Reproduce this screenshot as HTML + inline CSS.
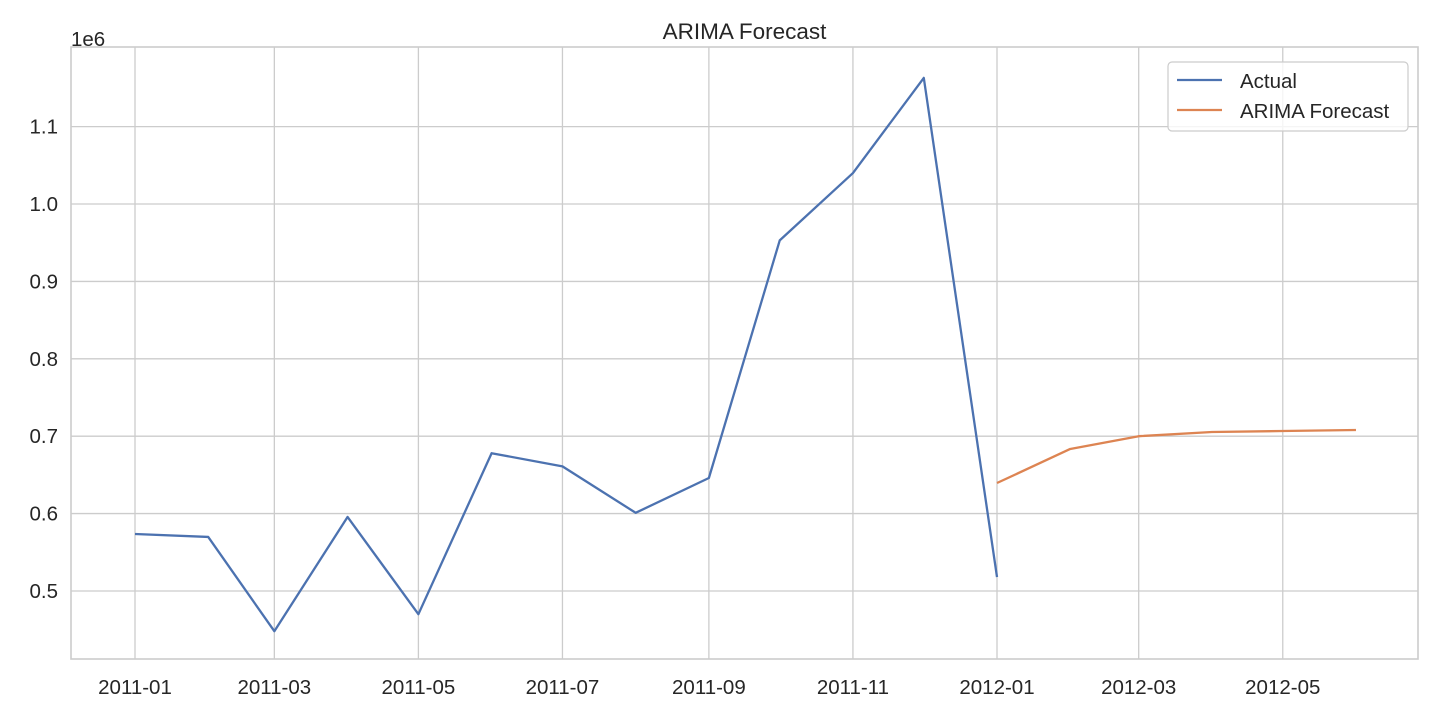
<!DOCTYPE html>
<html><head><meta charset="utf-8"><style>
html,body{margin:0;padding:0;background:#fff;}
svg{display:block;font-family:"Liberation Sans",sans-serif;}
</style></head><body>
<svg id="chart" width="1440" height="720" xmlns="http://www.w3.org/2000/svg"></svg>
<script>
const actualDates = ["2011-01-01","2011-02-01","2011-03-01","2011-04-01","2011-05-01","2011-06-01","2011-07-01","2011-08-01","2011-09-01","2011-10-01","2011-11-01","2011-12-01","2012-01-01"];
const actualValues = [0.5736,0.5698,0.448,0.5956,0.470,0.678,0.661,0.601,0.646,0.953,1.040,1.163,0.518];
const forecastDates = ["2012-01-01","2012-02-01","2012-03-01","2012-04-01","2012-05-01","2012-06-01"];
const forecastValues = [0.6395,0.6835,0.700,0.7054,0.7067,0.708];
const yTicks = [0.5,0.6,0.7,0.8,0.9,1.0,1.1];
const xTickDates = ["2011-01-01","2011-03-01","2011-05-01","2011-07-01","2011-09-01","2011-11-01","2012-01-01","2012-03-01","2012-05-01"];
const xTickLabels = ["2011-01","2011-03","2011-05","2011-07","2011-09","2011-11","2012-01","2012-03","2012-05"];

const L=71,R=1418,T=47,B=659;
const day=86400000, t0=Date.parse("2011-01-01"), t1=Date.parse("2012-01-01");
const pxPerDay=(997-135)/((t1-t0)/day);
function x(d){return 135+((Date.parse(d)-t0)/day)*pxPerDay;}
const yMin=0.4121,yMax=1.2029;
function y(v){return B-(v-yMin)/(yMax-yMin)*(B-T);}
const svg=document.getElementById('chart');
const NS="http://www.w3.org/2000/svg";
function mk(tag,attrs,parent){const e=document.createElementNS(NS,tag);for(const k in attrs)e.setAttribute(k,attrs[k]);(parent||svg).appendChild(e);return e;}

const grid=mk('g',{});


yTicks.forEach((v,i)=>{
  const yy=y(v);
  const ln=mk('line',{x1:L,x2:R,y1:yy,y2:yy,stroke:'#cccccc','stroke-width':1.3},grid);
  
  
  const t=mk('text',{x:L-13,y:yy+7,'text-anchor':'end','font-size':20.5,fill:'#262626'});
  t.textContent=v.toFixed(1);
  
  
});
xTickDates.forEach((d,i)=>{
  const xx=x(d);
  const ln=mk('line',{x1:xx,x2:xx,y1:T,y2:B,stroke:'#cccccc','stroke-width':1.3},grid);
  
  
  const t=mk('text',{x:xx,y:B+35,'text-anchor':'middle','font-size':20.5,fill:'#262626'});
  t.textContent=xTickLabels[i];
  
  
});
const frame=mk('rect',{x:L,y:T,width:R-L,height:B-T,fill:'none',stroke:'#cccccc','stroke-width':1.6});



function line(dates,vals,color,name){
  const p=mk('polyline',{points:dates.map((d,i)=>x(d)+','+y(vals[i])).join(' '),fill:'none',stroke:color,'stroke-width':2.3,'stroke-linejoin':'round'});
  
  
}
line(actualDates,actualValues,'#4c72b0','actual-line');
line(forecastDates,forecastValues,'#dd8452','forecast-line');

const title=mk('text',{x:(L+R)/2,y:39,'text-anchor':'middle','font-size':22.5,fill:'#262626'});
title.textContent='ARIMA Forecast';


const off=mk('text',{x:71,y:46,'font-size':20.5,fill:'#262626'});
off.textContent='1e6';



const lg=mk('g',{});


mk('rect',{x:1168,y:62,width:240,height:69,rx:4,fill:'#fff','fill-opacity':0.8,stroke:'#cccccc','stroke-width':1.2},lg);
[['Actual','#4c72b0',88],['ARIMA Forecast','#dd8452',118]].forEach(([lab,c,yy])=>{
  const e=mk('g',{},lg);
  
  
  mk('line',{x1:1177,x2:1222,y1:yy-8,y2:yy-8,stroke:c,'stroke-width':2.3},e);
  const t=mk('text',{x:1240,y:yy,'font-size':20.5,fill:'#262626'},e);
  t.textContent=lab;
});
</script>
</body></html>
